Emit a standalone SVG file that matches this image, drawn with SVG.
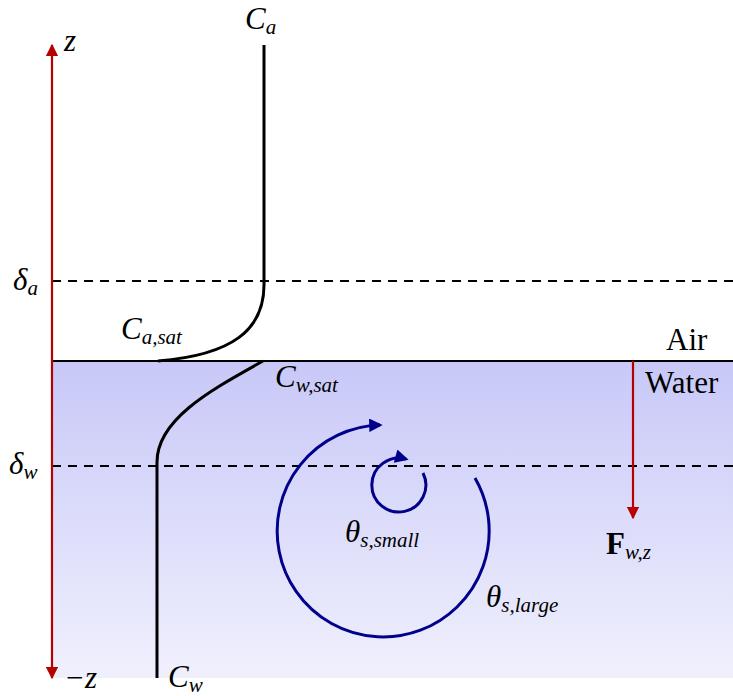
<svg xmlns="http://www.w3.org/2000/svg" width="733" height="696" viewBox="0 0 733 696">
<style>
.t{font-family:"Liberation Serif","DejaVu Serif",serif;font-style:italic;font-size:31px;fill:#000}
.s{font-size:21px}
.r{font-family:"Liberation Serif","DejaVu Serif",serif;font-size:31px;fill:#000}
.dash{stroke:#000;stroke-width:2;stroke-dasharray:9,7;fill:none}
.prof{stroke:#000;stroke-width:3;fill:none}
.red{stroke:#b80000;stroke-width:2.2;fill:none}
.blue{stroke:#00008b;stroke-width:3;fill:none}
</style>
<defs>
<linearGradient id="wg" x1="0" y1="0" x2="0" y2="1">
<stop offset="0" stop-color="#c8c8f8"/>
<stop offset="1" stop-color="#f0f0fd"/>
</linearGradient>
<marker id="ar" viewBox="0 0 10 10" refX="9" refY="5" markerWidth="6.5" markerHeight="5.5" orient="auto" markerUnits="strokeWidth">
<path d="M0,0 L10,5 L0,10 z" fill="#b80000"/>
</marker>
<marker id="ab" viewBox="0 0 10 10" refX="8" refY="5" markerWidth="6" markerHeight="4.5" orient="auto" markerUnits="strokeWidth">
<path d="M0,0 L10,5 L0,10 z" fill="#00008b"/>
</marker>
</defs>
<g id="water"><rect x="52" y="361" width="681" height="317" fill="url(#wg)"/></g>
<g id="levels">
<line class="dash" x1="52" y1="281" x2="733" y2="281"/>
<line class="dash" x1="52" y1="466" x2="733" y2="466"/>
<line x1="52" y1="361" x2="733" y2="361" stroke="#000" stroke-width="2.2"/>
</g>
<g id="connectors">
<line class="red" x1="52" y1="361" x2="52" y2="45" marker-end="url(#ar)"/>
<line class="red" x1="52" y1="361" x2="52" y2="678" marker-end="url(#ar)"/>
<line class="red" x1="633" y1="361" x2="633" y2="518" marker-end="url(#ar)"/>
<path class="blue" d="M475,478 A106,106 0 1 1 380,425" marker-end="url(#ab)"/>
<path class="blue" d="M423,473 A27,27 0 1 1 406,459" marker-end="url(#ab)"/>
</g>
<g id="profile-air"><path class="prof" d="M264,45 L264,285 C264,330 232,355 158,361"/></g>
<g id="profile-water"><path class="prof" d="M263,361 C215,388 157,418 157,462 L157,678"/></g>
<g id="labels">
<text class="t" x="64" y="51">z</text>
<text class="t" x="64" y="688">−z</text>
<text class="t" x="245" y="29">C<tspan class="s" dy="5">a</tspan></text>
<text class="t" x="13" y="290">δ<tspan class="s" dy="5">a</tspan></text>
<text class="t" x="9" y="474">δ<tspan class="s" dy="5">w</tspan></text>
<text class="t" x="121" y="339">C<tspan class="s" dy="5">a,sat</tspan></text>
<text class="t" x="275" y="387">C<tspan class="s" dy="5">w,sat</tspan></text>
<text class="t" x="168" y="687">C<tspan class="s" dy="5">w</tspan></text>
<text class="r" x="666" y="350">Air</text>
<text class="r" x="645" y="393">Water</text>
<text class="t" x="345" y="542">θ<tspan class="s" dy="5">s,small</tspan></text>
<text class="t" x="486" y="607">θ<tspan class="s" dy="5">s,large</tspan></text>
<text class="r" x="606" y="554" font-weight="bold">F<tspan class="t s" font-weight="normal" dy="5">w,z</tspan></text>
</g>
</svg>
